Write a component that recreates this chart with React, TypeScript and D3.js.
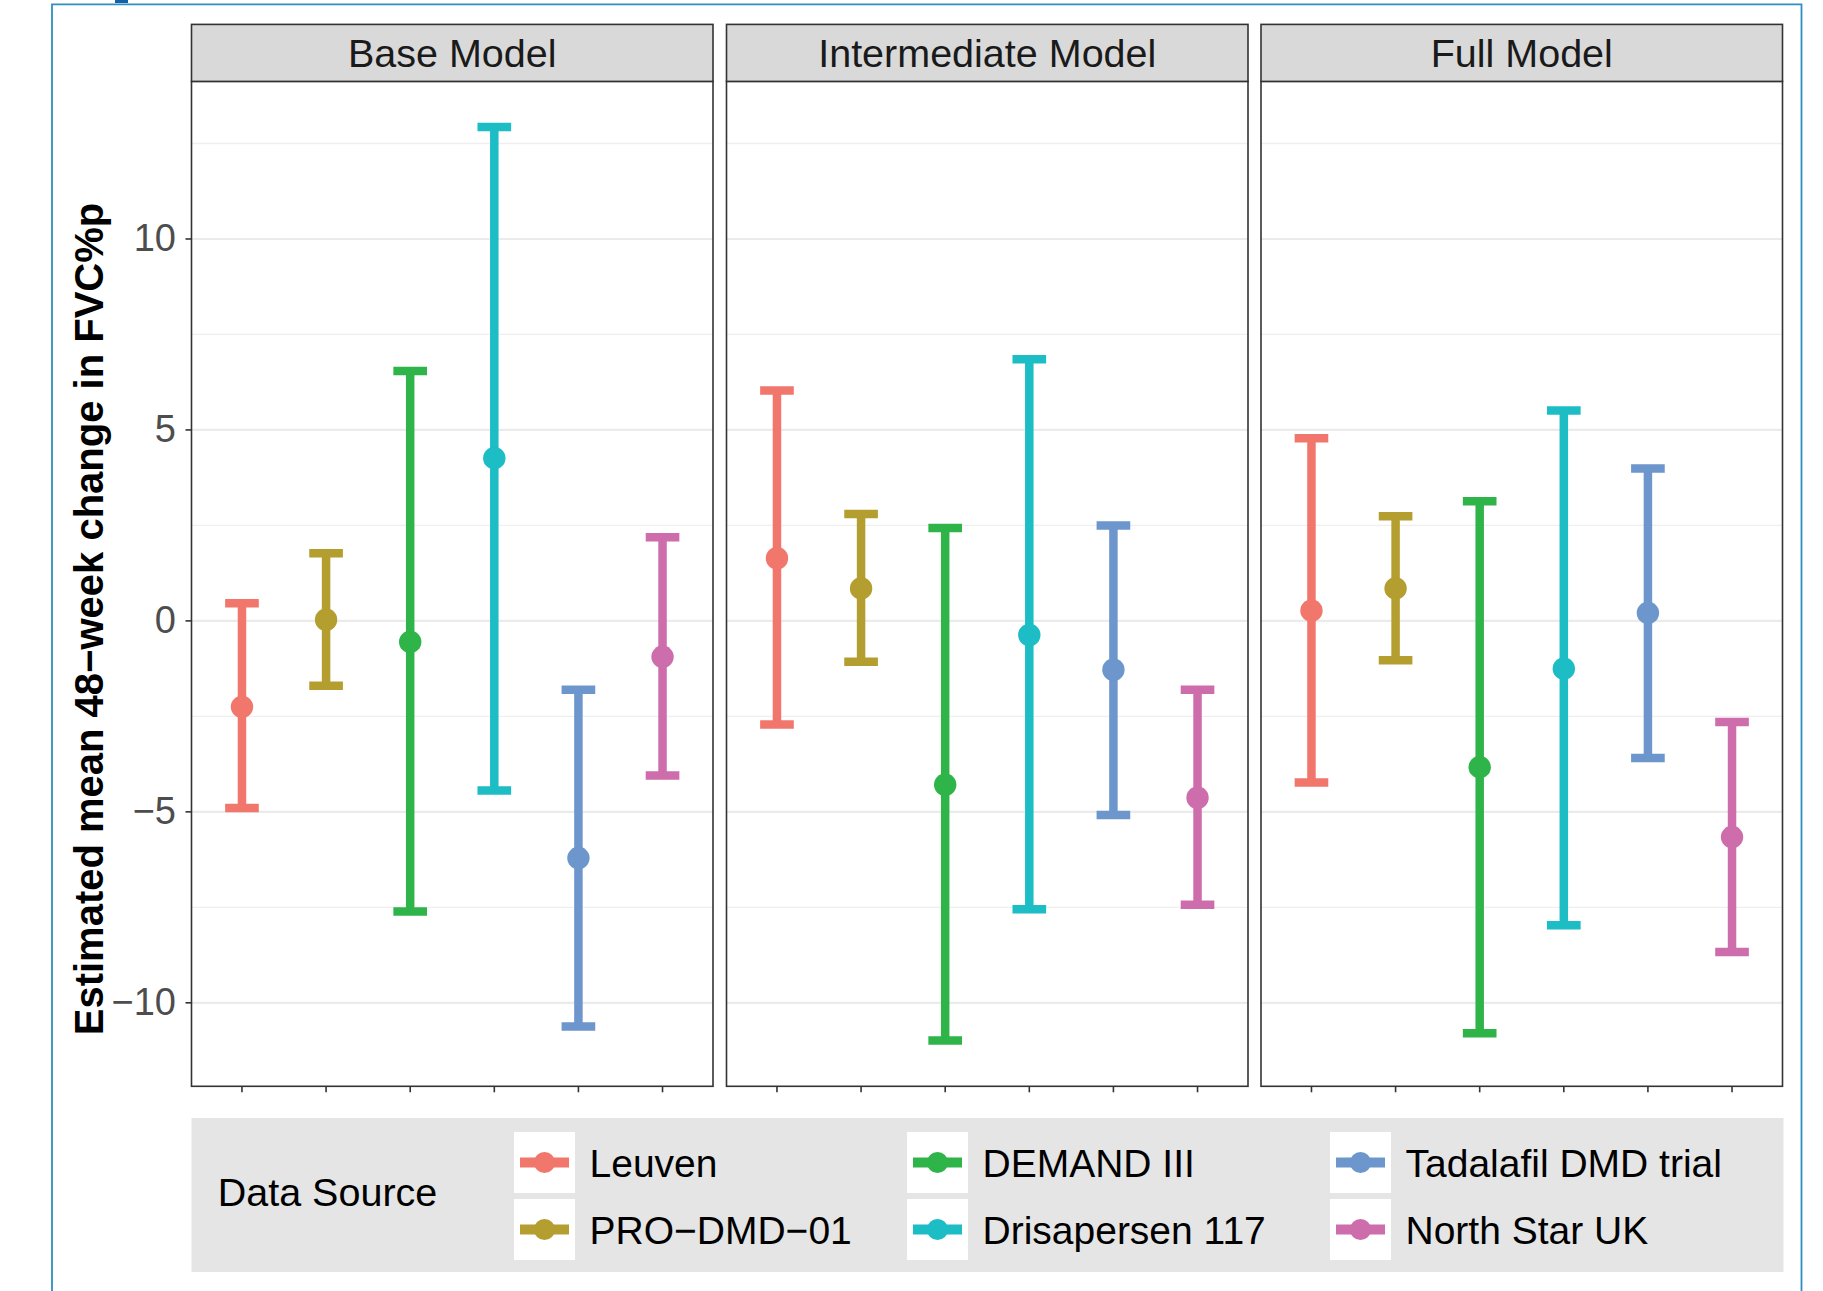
import React, { useEffect, useRef } from "react";
import * as d3 from "d3";

// facet panels and data sources
const panels = ["Base Model", "Intermediate Model", "Full Model"];
const sources = [
  "Leuven",
  "PRO\u2212DMD\u221201",
  "DEMAND III",
  "Drisapersen 117",
  "Tadalafil DMD trial",
  "North Star UK",
];
const colors = ["#f1766c", "#b49e30", "#2fb44a", "#1cbdc5", "#6c96cc", "#ce6dab"];

// estimated mean and 95% interval per panel, same order as sources
const baseMean = [-2.25, 0.03, -0.55, 4.26, -6.21, -0.94];
const baseLower = [-4.9, -1.7, -7.61, -4.44, -10.62, -4.05];
const baseUpper = [0.46, 1.77, 6.54, 12.93, -1.8, 2.19];

const interMean = [1.64, 0.85, -4.29, -0.37, -1.28, -4.63];
const interLower = [-2.71, -1.07, -10.99, -7.55, -5.08, -7.43];
const interUpper = [6.03, 2.8, 2.43, 6.85, 2.5, -1.8];

const fullMean = [0.27, 0.85, -3.83, -1.25, 0.21, -5.66];
const fullLower = [-4.23, -1.03, -10.8, -7.97, -3.59, -8.67];
const fullUpper = [4.78, 2.74, 3.13, 5.51, 3.99, -2.65];

const yTicks = [-10, -5, 0, 5, 10];
const yMinorTicks = [-7.5, -2.5, 2.5, 7.5, 12.5];

const legendTitle = "Data Source";
const yTitle = "Estimated mean 48\u2212week change in FVC%p";

function App() {
  const svgRef = useRef(null);

  useEffect(() => {
    const W = 1823;
    const H = 1291;
    const font = "'Liberation Sans', Arial, Helvetica, sans-serif";
    const svg = d3.select(svgRef.current).attr("width", W).attr("height", H);
    svg.selectAll("*").remove();

    svg.append("rect").attr("width", W).attr("height", H).attr("fill", "#fff");

    // blue frame around the figure (open at the bottom)
    svg
      .append("path")
      .attr("d", "M52,1291 V4.3 H1801.5 V1291")
      .attr("fill", "none")
      .attr("stroke", "#2e8fc0")
      .attr("stroke-width", 1.8);
    svg.append("rect").attr("x", 115).attr("y", 0).attr("width", 13).attr("height", 3).attr("fill", "#1561a8");

    const rows = [
      { mean: baseMean, lower: baseLower, upper: baseUpper },
      { mean: interMean, lower: interLower, upper: interUpper },
      { mean: fullMean, lower: fullLower, upper: fullUpper },
    ];

    const stripTop = 24.4;
    const panelTop = 81.4;
    const panelBottom = 1086.3;
    const panelW = 521.5;
    const panelLefts = [191.5, 726.5, 1261];

    const allLo = d3.min(rows, (r) => d3.min(r.lower));
    const allHi = d3.max(rows, (r) => d3.max(r.upper));
    const pad = (allHi - allLo) * 0.05;
    const y = d3.scaleLinear().domain([allLo - pad, allHi + pad]).range([panelBottom, panelTop]);

    panels.forEach((name, pi) => {
      const left = panelLefts[pi];
      const x = d3.scalePoint().domain(sources).range([left, left + panelW]).padding(0.6);
      const g = svg.append("g");
      const d = rows[pi];

      g.append("rect")
        .attr("x", left)
        .attr("y", panelTop)
        .attr("width", panelW)
        .attr("height", panelBottom - panelTop)
        .attr("fill", "#fff");

      g.selectAll(".minor")
        .data(yMinorTicks.filter((t) => y(t) > panelTop && y(t) < panelBottom))
        .join("line")
        .attr("x1", left)
        .attr("x2", left + panelW)
        .attr("y1", (t) => y(t))
        .attr("y2", (t) => y(t))
        .attr("stroke", "#efefef")
        .attr("stroke-width", 1.3);

      g.selectAll(".major")
        .data(yTicks)
        .join("line")
        .attr("x1", left)
        .attr("x2", left + panelW)
        .attr("y1", (t) => y(t))
        .attr("y2", (t) => y(t))
        .attr("stroke", "#ebebeb")
        .attr("stroke-width", 2.2);

      const capW = x.step() * 0.4;
      sources.forEach((s, i) => {
        const cx = x(s);
        const c = colors[i];
        g.append("line")
          .attr("x1", cx)
          .attr("x2", cx)
          .attr("y1", y(d.upper[i]))
          .attr("y2", y(d.lower[i]))
          .attr("stroke", c)
          .attr("stroke-width", 8.5);
        [d.upper[i], d.lower[i]].forEach((v) => {
          g.append("line")
            .attr("x1", cx - capW / 2)
            .attr("x2", cx + capW / 2)
            .attr("y1", y(v))
            .attr("y2", y(v))
            .attr("stroke", c)
            .attr("stroke-width", 8.5);
        });
        g.append("circle").attr("cx", cx).attr("cy", y(d.mean[i])).attr("r", 11.2).attr("fill", c);
      });

      // panel border
      g.append("rect")
        .attr("x", left)
        .attr("y", panelTop)
        .attr("width", panelW)
        .attr("height", panelBottom - panelTop)
        .attr("fill", "none")
        .attr("stroke", "#333")
        .attr("stroke-width", 1.6);

      // strip
      g.append("rect")
        .attr("x", left)
        .attr("y", stripTop)
        .attr("width", panelW)
        .attr("height", panelTop - stripTop)
        .attr("fill", "#d9d9d9")
        .attr("stroke", "#333")
        .attr("stroke-width", 1.6);
      g.append("text")
        .attr("x", left + panelW / 2)
        .attr("y", 67.2)
        .attr("text-anchor", "middle")
        .attr("font-family", font)
        .attr("font-size", 39.5)
        .attr("fill", "#1a1a1a")
        .text(name);

      // x ticks (no labels)
      g.selectAll(".xt")
        .data(sources)
        .join("line")
        .attr("x1", (s) => x(s))
        .attr("x2", (s) => x(s))
        .attr("y1", panelBottom)
        .attr("y2", panelBottom + 6)
        .attr("stroke", "#333")
        .attr("stroke-width", 1.6);
    });

    // y axis
    const yAxis = svg.append("g");
    yAxis
      .selectAll("line")
      .data(yTicks)
      .join("line")
      .attr("x1", panelLefts[0] - 6)
      .attr("x2", panelLefts[0])
      .attr("y1", (t) => y(t))
      .attr("y2", (t) => y(t))
      .attr("stroke", "#333")
      .attr("stroke-width", 1.6);
    yAxis
      .selectAll("text")
      .data(yTicks)
      .join("text")
      .attr("x", 176)
      .attr("y", (t) => y(t) + 12)
      .attr("text-anchor", "end")
      .attr("font-family", font)
      .attr("font-size", 38)
      .attr("fill", "#4d4d4d")
      .text((t) => d3.format("d")(t));

    svg
      .append("text")
      .attr("transform", "translate(103,619) rotate(-90)")
      .attr("text-anchor", "middle")
      .attr("font-family", font)
      .attr("font-weight", "bold")
      .attr("font-size", 40)
      .attr("fill", "#000")
      .text(yTitle);

    // legend
    const lg = svg.append("g");
    lg.append("rect")
      .attr("x", 191.5)
      .attr("y", 1118)
      .attr("width", 1592)
      .attr("height", 154)
      .attr("fill", "#e5e5e5");
    lg.append("text")
      .attr("x", 217.7)
      .attr("y", 1206)
      .attr("font-family", font)
      .attr("font-size", 39.5)
      .attr("fill", "#000")
      .text(legendTitle);

    const colX = [514, 907, 1330];
    const rowY = [1132, 1199];
    const key = 61;
    sources.forEach((s, i) => {
      const kx = colX[Math.floor(i / 2)];
      const ky = rowY[i % 2];
      lg.append("rect").attr("x", kx).attr("y", ky).attr("width", key).attr("height", key).attr("fill", "#fff");
      lg.append("line")
        .attr("x1", kx + 6)
        .attr("x2", kx + key - 6)
        .attr("y1", ky + key / 2)
        .attr("y2", ky + key / 2)
        .attr("stroke", colors[i])
        .attr("stroke-width", 10);
      lg.append("circle").attr("cx", kx + key / 2).attr("cy", ky + key / 2).attr("r", 10.5).attr("fill", colors[i]);
      lg.append("text")
        .attr("x", kx + key + 14.5)
        .attr("y", ky + key / 2 + 14.2)
        .attr("font-family", font)
        .attr("font-size", 39)
        .attr("fill", "#000")
        .text(s);
    });
  }, []);

  return (
    <div style={{ position: "absolute", left: 0, top: 0 }}>
      <svg ref={svgRef}></svg>
    </div>
  );
}

export default App;
